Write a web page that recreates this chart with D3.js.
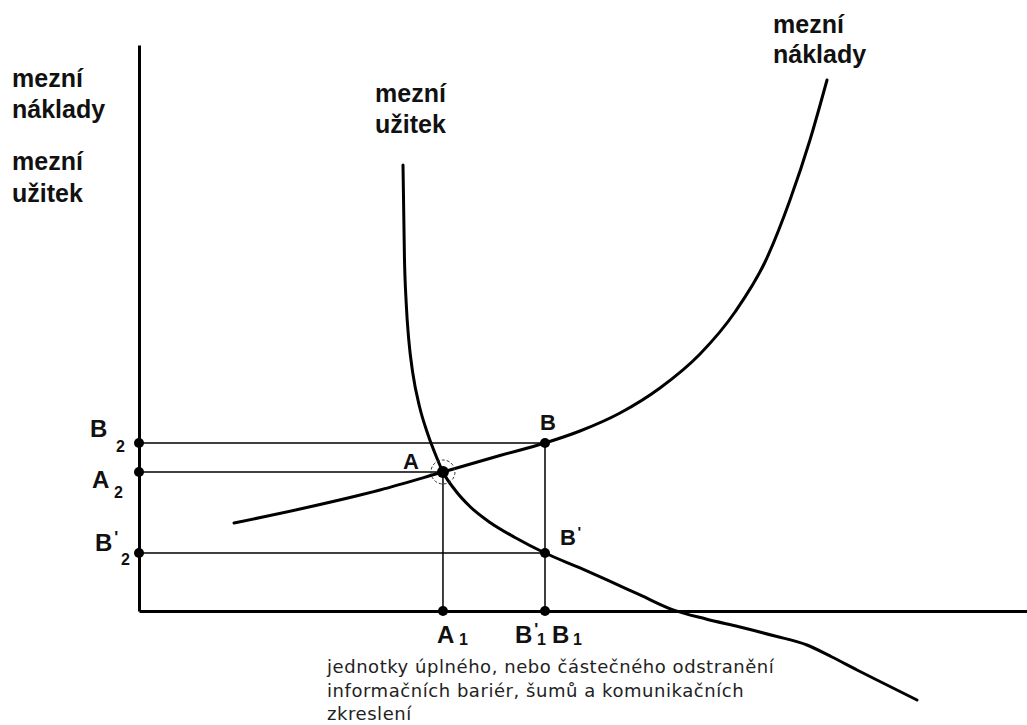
<!DOCTYPE html>
<html>
<head>
<meta charset="utf-8">
<script src="https://cdn.jsdelivr.net/npm/d3@7"></script>
<style>
  html, body { margin: 0; padding: 0; background: #fff; }
  svg { display: block; }
  .lbl { font-family: "Liberation Sans", Arial, sans-serif; font-weight: bold; fill: #111; }
  .note { font-family: "DejaVu Sans", sans-serif; fill: #222; }
</style>
</head>
<body>
<svg id="chart"></svg>
<script>
// axis domains (arbitrary units, no ticks in the original)
const xDomain = [0, 10];
const yDomain = [0, 10];

// marginal utility curve (mezní užitek)
const muCurve = [
  [2.973, 7.880], [2.989, 6.254], [3.009, 5.442], [3.038, 4.788], [3.083, 4.205],
  [3.160, 3.604], [3.248, 3.145], [3.350, 2.721], [3.423, 2.456], [3.559, 2.138],
  [3.727, 1.846], [3.953, 1.564], [4.234, 1.299], [4.572, 1.025], [4.966, 0.760],
  [5.270, 0.548], [5.642, 0.283], [6.014, 0.020], [6.385, -0.141], [6.768, -0.283],
  [7.162, -0.442], [7.523, -0.601], [7.804, -0.813], [8.086, -1.042], [8.423, -1.307],
  [8.761, -1.572]
];

// marginal cost curve (mezní náklady)
const mcCurve = [
  [1.070, 1.555], [1.813, 1.802], [2.714, 2.138], [3.423, 2.456], [4.065, 2.747],
  [4.572, 2.968], [4.966, 3.180], [5.417, 3.498], [5.867, 3.940], [6.318, 4.541],
  [6.712, 5.283], [7.050, 6.166], [7.331, 7.261], [7.556, 8.322], [7.748, 9.382]
];

// key points
const pointA = [3.423, 2.456];
const pointB = [4.572, 2.968];
const pointBp = [4.572, 1.025];

// texts
const yTitle1 = ['mezní', 'náklady'];
const yTitle2 = ['mezní', 'užitek'];
const muTitle = ['mezní', 'užitek'];
const mcTitle = ['mezní', 'náklady'];
const xTitle = [
  'jednotky úplného, nebo částečného odstranění',
  'informačních bariér, šumů a komunikačních',
  'zkreslení'
];

const width = 1027;
const height = 725;
const svg = d3.select('#chart').attr('width', width).attr('height', height);

const x = d3.scaleLinear().domain(xDomain).range([139, 1027]);
const y = d3.scaleLinear().domain(yDomain).range([611, 45]);

// axes: just the domain lines
svg.append('g')
  .attr('transform', `translate(${x(0)},0)`)
  .call(d3.axisLeft(y).tickValues([]).tickSizeOuter(0));
svg.append('g')
  .attr('transform', `translate(0,${y(0)})`)
  .call(d3.axisBottom(x).tickValues([]).tickSizeOuter(0));
svg.selectAll('.domain').attr('stroke', '#000').attr('stroke-width', 3);

// guide lines
const guides = [
  [[0, pointB[1]], pointB],
  [[0, pointA[1]], pointA],
  [[0, pointBp[1]], pointBp],
  [[pointA[0], 0], pointA],
  [[pointB[0], 0], pointB]
];
svg.append('g')
  .selectAll('line')
  .data(guides)
  .join('line')
  .attr('x1', d => x(d[0][0]))
  .attr('y1', d => y(d[0][1]))
  .attr('x2', d => x(d[1][0]))
  .attr('y2', d => y(d[1][1]))
  .attr('stroke', '#000')
  .attr('stroke-width', 1.5);

// curves
const line = d3.line()
  .x(d => x(d[0]))
  .y(d => y(d[1]))
  .curve(d3.curveMonotoneX);

svg.append('g')
  .selectAll('path')
  .data([muCurve, mcCurve])
  .join('path')
  .attr('d', line)
  .attr('fill', 'none')
  .attr('stroke', '#000')
  .attr('stroke-width', 3)
  .attr('stroke-linejoin', 'round')
  .attr('stroke-linecap', 'round');

// dashed circle around the equilibrium
svg.append('circle')
  .attr('cx', x(pointA[0]))
  .attr('cy', y(pointA[1]))
  .attr('r', 12)
  .attr('fill', 'none')
  .attr('stroke', '#333')
  .attr('stroke-width', 1)
  .attr('stroke-dasharray', '3,2');

// dots
const dots = [
  pointA, pointB, pointBp,
  [0, pointB[1]], [0, pointA[1]], [0, pointBp[1]],
  [pointA[0], 0], [pointB[0], 0]
];
svg.append('g')
  .selectAll('circle')
  .data(dots)
  .join('circle')
  .attr('cx', d => x(d[0]))
  .attr('cy', d => y(d[1]))
  .attr('r', d => d === pointA ? 6 : 5)
  .attr('fill', '#000');

// helper for letter labels with optional prime and subscript
function letter(px, py, main, size, prime, sub, subDx, subDy, subBold) {
  const g = svg.append('g');
  g.append('text').attr('class', 'lbl')
    .attr('x', px).attr('y', py)
    .attr('font-size', size)
    .text(main);
  if (prime) {
    g.append('text').attr('class', 'lbl')
      .attr('x', px + size * 0.8).attr('y', py - size * 0.35)
      .attr('font-size', size * 0.7)
      .text("'");
  }
  if (sub) {
    g.append('text').attr('class', 'lbl')
      .attr('x', px + subDx).attr('y', py + subDy)
      .attr('font-size', 16)
      .attr('font-weight', subBold ? 'bold' : 'normal')
      .text(sub);
  }
}

const x0 = x(0);
letter(x0 - 49, y(pointB[1]) - 6, 'B', 24, false, '2', 26, 15, false);
letter(x0 - 47, y(pointA[1]) + 16, 'A', 24, false, '2', 22, 10, false);
letter(x0 - 44, y(pointBp[1]) - 2, 'B', 24, true, '2', 26, 14, false);

letter(x(pointA[0]) - 40, y(pointA[1]) - 3, 'A', 22, false);
letter(x(pointB[0]) - 5, y(pointB[1]) - 13, 'B', 22, false);
letter(x(pointBp[0]) + 15, y(pointBp[1]) - 8, 'B', 22, true);

letter(x(pointA[0]) - 6, y(0) + 32, 'A', 24, false, '1', 22, 2, true);
letter(x(pointB[0]) - 30, y(0) + 32, 'B', 24, true, '1', 22, 2, true);
letter(x(pointB[0]) + 7, y(0) + 32, 'B', 24, false, '1', 21, 2, true);

// titles
function title(lines, px, py, lh) {
  svg.append('g')
    .selectAll('text')
    .data(lines)
    .join('text')
    .attr('class', 'lbl')
    .attr('font-size', 25)
    .attr('x', px)
    .attr('y', (d, i) => py + i * lh)
    .text(d => d);
}
title(yTitle1, 12, 87, 31);
title(yTitle2, 12, 170, 32);
title(muTitle, 375, 102, 31);
title(mcTitle, 773, 33, 30);

svg.append('g')
  .selectAll('text')
  .data(xTitle)
  .join('text')
  .attr('class', 'note')
  .attr('font-size', 18)
  .attr('letter-spacing', 0.55)
  .attr('x', 327)
  .attr('y', (d, i) => 673 + i * 23.5)
  .text(d => d);
</script>
</body>
</html>
